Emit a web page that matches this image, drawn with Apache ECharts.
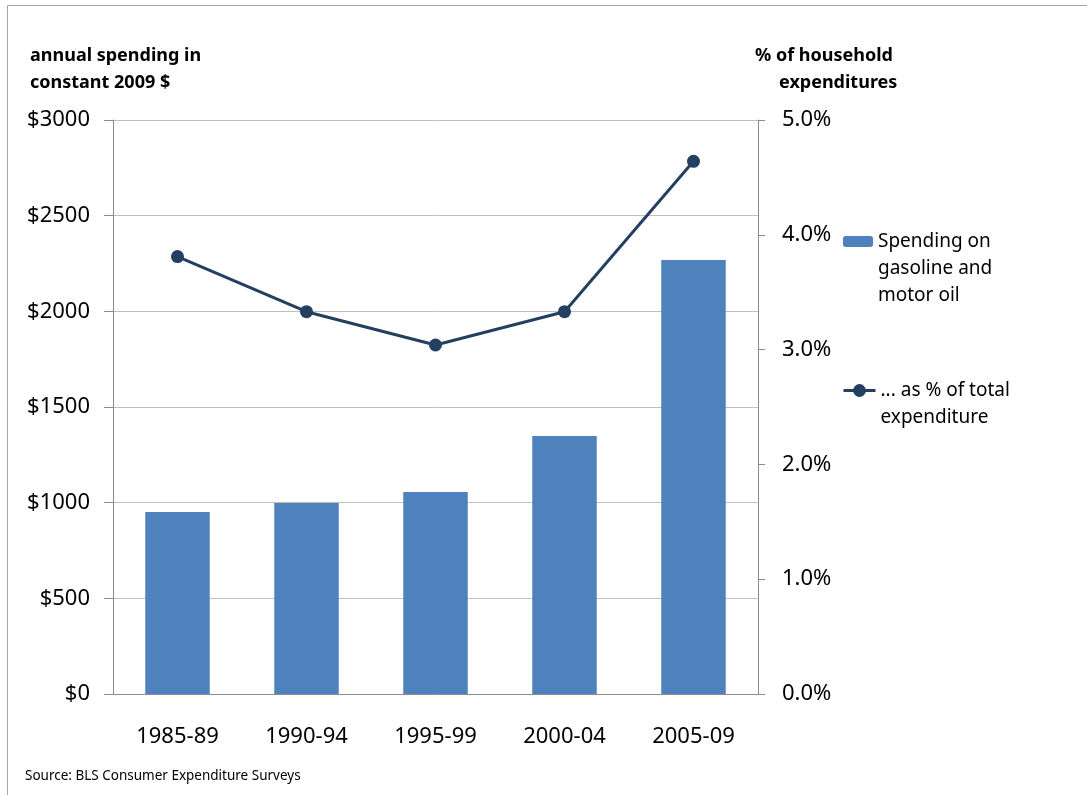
<!DOCTYPE html>
<html>
<head>
<meta charset="utf-8">
<script src="https://cdn.jsdelivr.net/npm/echarts@6/dist/echarts.min.js"></script>
<style>
  html, body { margin: 0; padding: 0; background: #fff; }
  #chart { width: 1087px; height: 795px; }
</style>
</head>
<body>
<div id="chart"></div>
<script>
// periods on the x axis
const categories = ['1985-89', '1990-94', '1995-99', '2000-04', '2005-09'];
// annual spending on gasoline and motor oil, constant 2009 $
const spending = [951, 998, 1056, 1349, 2268];
// same spending as % of total household expenditure
const sharePct = [3.81, 3.33, 3.04, 3.33, 4.64];

const FONT = '"Noto Sans", sans-serif';
const BAR_COLOR = '#4f81bd';
const LINE_COLOR = '#243f60';

const chart = echarts.init(document.getElementById('chart'));

// legend text is vertically centred on the icon, so blank lines in front
// put the first real line level with the icon (as in the original)
const legendText = {
  fontFamily: FONT,
  fontSize: 19,
  color: '#000',
  lineHeight: 27,
};

chart.setOption({
  animation: false,
  textStyle: { fontFamily: FONT },
  grid: {
    left: 113,
    right: 329,
    top: 120,
    bottom: 101,
  },
  legend: [
    {
      data: ['Spending on gasoline and motor oil'],
      left: 843,
      top: 174,
      padding: 0,
      itemWidth: 30,
      itemHeight: 11,
      formatter: () => ' \n \nSpending on\ngasoline and\nmotor oil',
      textStyle: legendText,
    },
    {
      data: ['... as % of total expenditure'],
      left: 842,
      top: 350,
      padding: 0,
      itemWidth: 32,
      itemHeight: 16,
      itemGap: 0,
      itemStyle: { color: LINE_COLOR },
      lineStyle: { width: 3 },
      formatter: () => ' \n... as % of total\nexpenditure',
      textStyle: legendText,
    },
  ],
  xAxis: {
    type: 'category',
    data: categories,
    axisLine: { lineStyle: { color: '#8c8c8c', width: 1 } },
    axisTick: { show: false },
    axisLabel: {
      color: '#000',
      fontSize: 22,
      margin: 32,
    },
  },
  yAxis: [
    {
      type: 'value',
      min: 0,
      max: 3000,
      interval: 500,
      axisLine: { show: true, lineStyle: { color: '#8c8c8c' } },
      axisTick: { show: true, length: 9, lineStyle: { color: '#8c8c8c' } },
      axisLabel: {
        color: '#000',
        fontSize: 22,
        margin: 23,
        formatter: (v) => '$' + v,
      },
      splitLine: { lineStyle: { color: '#bfbfbf', width: 1 } },
    },
    {
      type: 'value',
      min: 0,
      max: 5,
      interval: 1,
      position: 'right',
      axisLine: { show: true, lineStyle: { color: '#8c8c8c' } },
      axisTick: { show: true, length: 7, lineStyle: { color: '#8c8c8c' } },
      axisLabel: {
        color: '#000',
        fontSize: 22,
        margin: 24,
        formatter: (v) => v.toFixed(1) + '%',
      },
      splitLine: { show: false },
    },
  ],
  series: [
    {
      name: 'Spending on gasoline and motor oil',
      type: 'bar',
      data: spending,
      barWidth: '50%',
      itemStyle: { color: BAR_COLOR },
      yAxisIndex: 0,
    },
    {
      name: '... as % of total expenditure',
      type: 'line',
      data: sharePct,
      yAxisIndex: 1,
      symbol: 'circle',
      symbolSize: 13,
      lineStyle: { color: LINE_COLOR, width: 3 },
      itemStyle: { color: LINE_COLOR },
    },
  ],
  graphic: [
    {
      type: 'rect',
      silent: true,
      shape: { x: 7.5, y: 5.5, width: 1100, height: 800 },
      style: { fill: 'none', stroke: '#a6a6a6', lineWidth: 1 },
    },
    {
      type: 'text',
      left: 30,
      top: 42,
      style: {
        text: 'annual spending in\nconstant 2009 $',
        font: 'bold 18px "Noto Sans", sans-serif',
        lineHeight: 27,
        fill: '#000',
      },
    },
    {
      type: 'text',
      left: 755,
      top: 42,
      style: {
        text: '% of household',
        font: 'bold 18px "Noto Sans", sans-serif',
        lineHeight: 27,
        fill: '#000',
      },
    },
    {
      type: 'text',
      left: 779,
      top: 69,
      style: {
        text: 'expenditures',
        font: 'bold 18px "Noto Sans", sans-serif',
        lineHeight: 27,
        fill: '#000',
      },
    },
    {
      type: 'text',
      left: 25,
      top: 769,
      style: {
        text: 'Source: BLS Consumer Expenditure Surveys',
        font: '13.5px "Noto Sans", sans-serif',
        fill: '#000',
      },
    },
  ],
});
</script>
</body>
</html>
